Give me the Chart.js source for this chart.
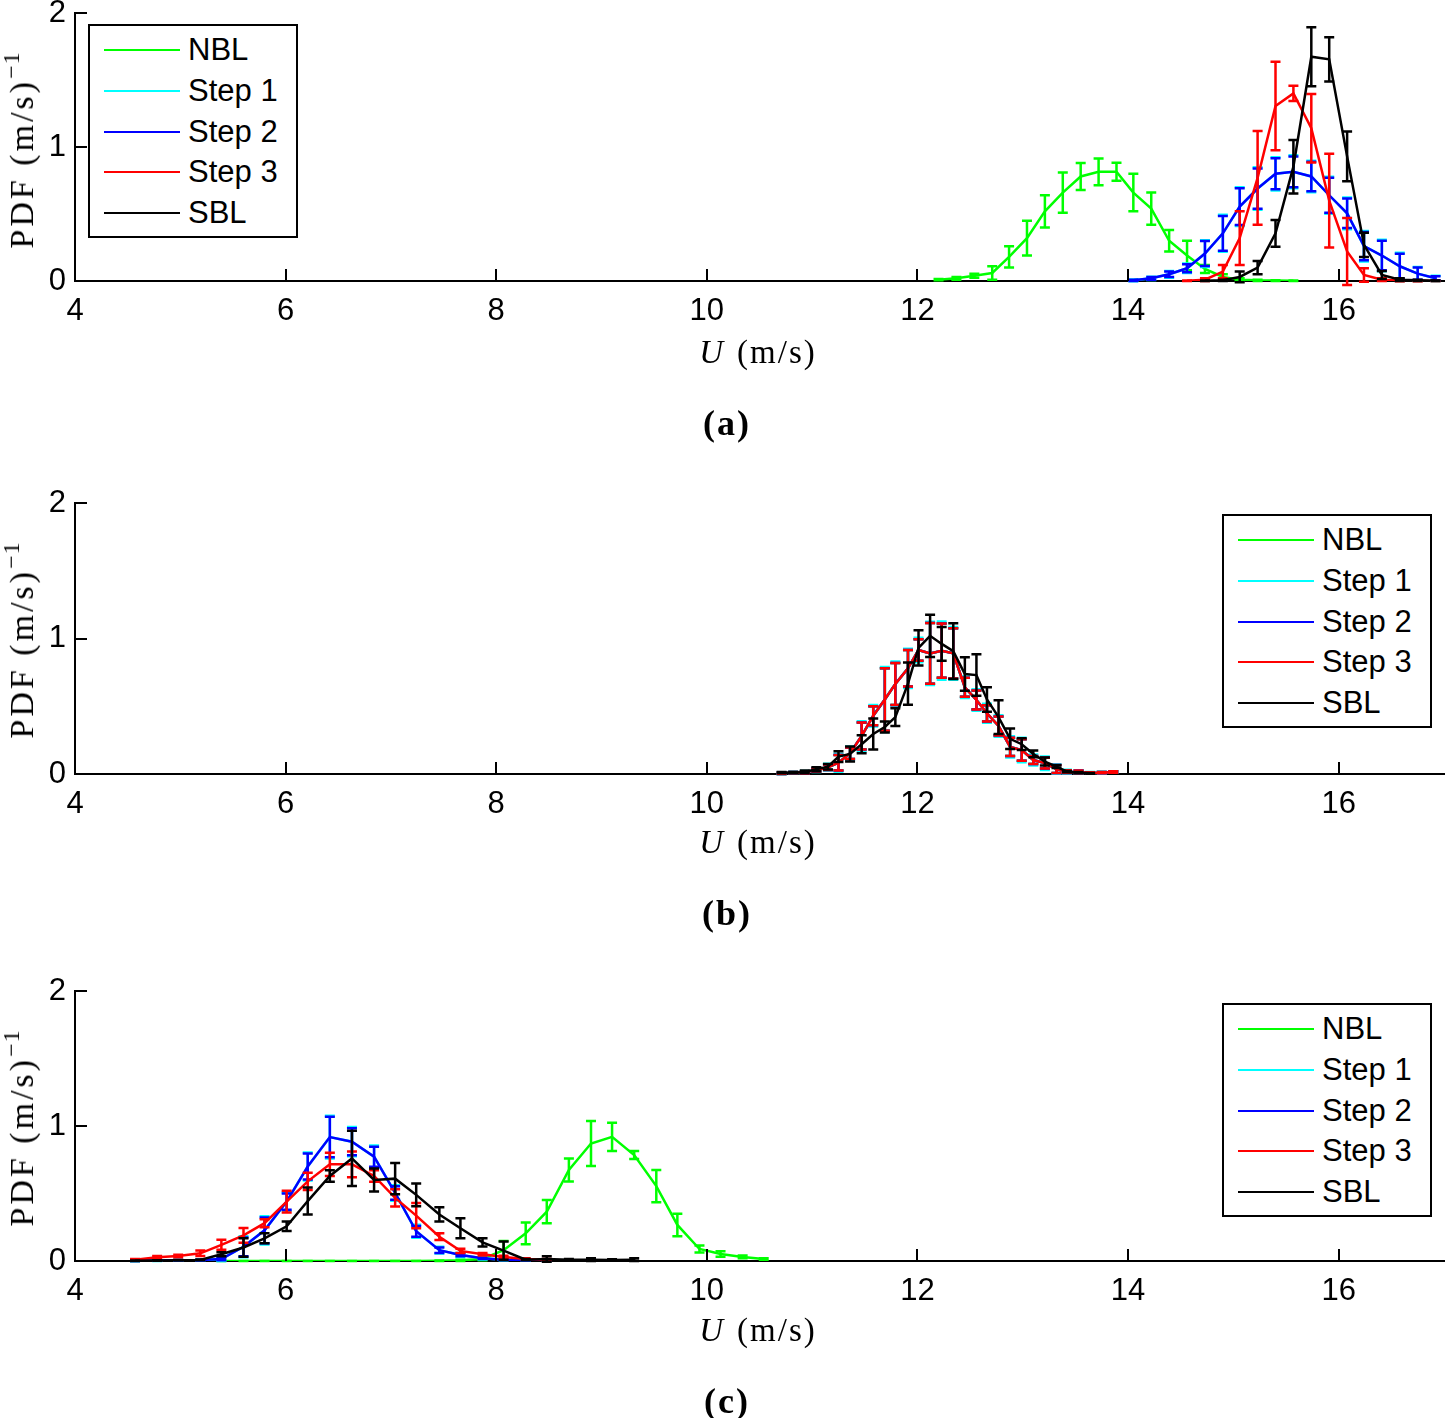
<!DOCTYPE html>
<html>
<head>
<meta charset="utf-8">
<script src="https://cdn.jsdelivr.net/npm/chart.js@4.4.1/dist/chart.umd.min.js"></script>
<style>
  html, body { margin:0; padding:0; background:#fff; }
  #page { position:relative; width:1445px; height:1418px; overflow:hidden; background:#fff; }
  canvas { position:absolute; left:0; }
  .ytitle { position:absolute; font-family:"Liberation Serif", serif; font-size:34px; letter-spacing:3px; white-space:nowrap; color:#000;
            transform:translate(-50%,-50%) rotate(-90deg); }
  .ytitle sup { font-size:24px; vertical-align:0; position:relative; top:-14px; letter-spacing:1px; }
  .xtitle { position:absolute; font-family:"Liberation Serif", serif; font-size:33px; letter-spacing:2px; white-space:nowrap; color:#000;
            transform:translate(-50%,-50%); }
  .xtitle i { margin-right:12px; }
  .caption { position:absolute; font-family:"Liberation Serif", serif; font-size:36px; font-weight:bold; letter-spacing:2px; color:#000;
             transform:translate(-50%,-50%); white-space:nowrap; }
  .legend { position:absolute; box-sizing:border-box; width:210px; height:214px; border:2px solid #000; background:#fff; }
  .lrow { position:absolute; left:0; width:100%; height:40px; line-height:40px; font-family:"Liberation Sans", Arial, sans-serif; font-size:31px; color:#000; }
  .lline { position:absolute; left:14px; top:19px; width:76px; height:2px; }
  .ltext { position:absolute; left:98px; top:0; white-space:nowrap; }
</style>
</head>
<body>
<div id="page"></div>
<script>
// ---------------- DATA ----------------
const xTicks = [4, 6, 8, 10, 12, 14, 16];
const yTicks = [0, 1, 2];
const xRange = [4, 17];
const yRange = [0, 2];
const seriesNames = ['NBL', 'Step 1', 'Step 2', 'Step 3', 'SBL'];
const panelCaptions = ['(a)', '(b)', '(c)'];
const xTitle = 'U';
const xUnit = '(m/s)';
const yTitle = 'PDF (m/s)';
const yTitleSup = '−1';

// Panel (a)
const binsA = [12.20,12.37,12.54,12.71,12.87,13.04,13.21,13.38,13.55,13.72,13.89,14.05,14.22,14.39,14.56,14.73,14.90,15.06,15.23,15.40,15.57,15.74,15.91,16.08,16.24,16.41,16.58,16.75,16.92];
const nblA     = [0.01,0.02,0.04,0.06,0.18,0.32,0.52,0.66,0.78,0.815,0.815,0.66,0.54,0.30,0.19,0.09,0.03,0.01,0.005,0.003,0.002,null,null,null,null,null,null,null,null];
const nblErrA  = [0.005,0.01,0.015,0.05,0.08,0.13,0.12,0.15,0.10,0.10,0.067,0.14,0.12,0.08,0.11,0.03,0.02,0.01,0.005,0.003,0.002,null,null,null,null,null,null,null,null];
const step1A   = [null,null,null,null,null,null,null,null,null,null,null,0.005,0.02,0.05,0.095,0.205,0.356,0.555,0.69,0.80,0.815,0.78,0.64,0.505,0.26,0.19,0.11,0.055,0.02];
const step1ErrA= [null,null,null,null,null,null,null,null,null,null,null,0.006,0.012,0.025,0.036,0.10,0.138,0.145,0.158,0.124,0.123,0.118,0.138,0.118,0.114,0.118,0.10,0.05,0.02];
const step2A   = [null,null,null,null,null,null,null,null,null,null,null,0.005,0.02,0.05,0.095,0.205,0.356,0.555,0.69,0.80,0.815,0.78,0.64,0.505,0.26,0.19,0.11,0.055,0.02];
const step2ErrA= [null,null,null,null,null,null,null,null,null,null,null,0.005,0.01,0.02,0.03,0.093,0.13,0.137,0.15,0.116,0.115,0.11,0.13,0.11,0.106,0.11,0.093,0.045,0.015];
const step3A   = [null,null,null,null,null,null,null,null,null,null,null,null,null,null,0.002,0.01,0.07,0.32,0.77,1.306,1.40,1.14,0.60,0.22,0.045,0.01,0.003,0.001,0.0];
const step3ErrA= [null,null,null,null,null,null,null,null,null,null,null,null,null,null,0.002,0.01,0.05,0.20,0.35,0.33,0.057,0.255,0.35,0.25,0.05,0.01,0.005,0.002,0.0];
const sblA     = [null,null,null,null,null,null,null,null,null,null,null,null,null,null,null,0.002,0.005,0.03,0.10,0.356,0.853,1.674,1.654,0.93,0.27,0.045,0.01,0.005,0.002];
const sblErrA  = [null,null,null,null,null,null,null,null,null,null,null,null,null,null,null,0.002,0.005,0.04,0.05,0.10,0.20,0.22,0.165,0.185,0.09,0.03,0.01,0.005,0.002];

// Panel (b)
const binsB = [10.71,10.82,10.93,11.04,11.15,11.25,11.36,11.47,11.58,11.69,11.79,11.91,12.01,12.12,12.23,12.34,12.45,12.56,12.66,12.77,12.88,12.99,13.10,13.21,13.32,13.42,13.53,13.64,13.75,13.86];
const nblB     = [0.005,0.01,0.012,0.03,0.05,0.083,0.153,0.28,0.43,0.55,0.665,0.78,0.915,0.89,0.91,0.89,0.64,0.546,0.448,0.354,0.20,0.177,0.103,0.08,0.037,0.017,0.015,0.008,0.01,0.015];
const nblErrB  = [0.005,0.005,0.008,0.012,0.02,0.058,0.043,0.10,0.07,0.23,0.155,0.135,0.08,0.224,0.20,0.185,0.07,0.07,0.06,0.07,0.068,0.08,0.03,0.04,0.03,0.01,0.01,0.005,0.005,0.005];
const step1B   = [0.005,0.01,0.012,0.03,0.05,0.083,0.153,0.28,0.43,0.55,0.665,0.78,0.915,0.89,0.91,0.89,0.64,0.546,0.448,0.354,0.20,0.177,0.103,0.08,0.037,0.017,0.015,0.008,0.01,0.015];
const step1ErrB= [0.006,0.006,0.01,0.015,0.025,0.066,0.05,0.11,0.08,0.24,0.165,0.145,0.09,0.234,0.215,0.195,0.08,0.08,0.07,0.08,0.078,0.09,0.04,0.05,0.035,0.015,0.012,0.006,0.006,0.006];
const step2B   = [0.005,0.01,0.012,0.03,0.05,0.083,0.153,0.28,0.43,0.55,0.665,0.78,0.915,0.89,0.91,0.89,0.64,0.546,0.448,0.354,0.20,0.177,0.103,0.08,0.037,0.017,0.015,0.008,0.01,0.015];
const step2ErrB= [0.005,0.005,0.008,0.012,0.02,0.058,0.043,0.10,0.07,0.23,0.155,0.135,0.08,0.224,0.20,0.185,0.07,0.07,0.06,0.07,0.068,0.08,0.03,0.04,0.03,0.01,0.01,0.005,0.005,0.005];
const step3B   = [0.005,0.01,0.012,0.03,0.05,0.083,0.153,0.28,0.43,0.55,0.665,0.78,0.915,0.89,0.91,0.89,0.64,0.546,0.448,0.354,0.20,0.177,0.103,0.08,0.037,0.017,0.015,0.008,0.01,0.015];
const step3ErrB= [0.005,0.005,0.008,0.012,0.02,0.058,0.043,0.10,0.07,0.23,0.155,0.135,0.08,0.224,0.20,0.185,0.07,0.07,0.06,0.07,0.068,0.08,0.03,0.04,0.03,0.01,0.01,0.005,0.005,0.005];
const sblB     = [0.01,0.01,0.015,0.035,0.054,0.128,0.148,0.22,0.295,0.347,0.42,0.667,0.93,1.02,0.96,0.907,0.738,0.73,0.55,0.42,0.26,0.22,0.148,0.092,0.054,0.017,0.01,0.005,null,null];
const sblErrB  = [0.005,0.005,0.01,0.015,0.02,0.04,0.055,0.066,0.114,0.04,0.065,0.156,0.13,0.156,0.125,0.205,0.123,0.153,0.09,0.125,0.076,0.043,0.025,0.03,0.01,0.005,0.005,0.003,null,null];

// Panel (c)
const binsC = [4.57,4.78,4.98,5.19,5.39,5.60,5.80,6.01,6.21,6.42,6.63,6.84,7.04,7.24,7.46,7.66,7.87,8.07,8.28,8.48,8.69,8.90,9.10,9.31,9.52,9.72,9.93,10.13,10.34,10.54];
const nblC     = [null,null,null,null,0,0,0,0,0,0,0,0,0,0,0.002,0.005,0.015,0.08,0.205,0.365,0.674,0.87,0.92,0.785,0.555,0.267,0.089,0.052,0.03,0.015];
const nblErrC  = [null,null,null,null,0,0,0,0,0,0,0,0,0,0,0.002,0.005,0.01,0.068,0.08,0.086,0.086,0.167,0.105,0.03,0.12,0.083,0.026,0.02,0.01,0.005];
const step1C   = [0.002,0.003,0.005,0.007,0.015,0.105,0.227,0.44,0.70,0.918,0.884,0.773,0.504,0.22,0.08,0.045,0.02,0.01,0.005,0.003,null,null,null,null,null,null,null,null,null,null];
const step1ErrC= [0.003,0.003,0.003,0.004,0.015,0.078,0.104,0.068,0.104,0.158,0.108,0.082,0.058,0.048,0.025,0.015,0.008,0.005,0.003,0.003,null,null,null,null,null,null,null,null,null,null];
const step2C   = [0.002,0.003,0.005,0.007,0.015,0.105,0.227,0.44,0.70,0.918,0.884,0.773,0.504,0.22,0.08,0.045,0.02,0.01,0.005,0.003,null,null,null,null,null,null,null,null,null,null];
const step2ErrC= [0.002,0.002,0.002,0.003,0.01,0.07,0.096,0.06,0.096,0.15,0.10,0.074,0.05,0.04,0.02,0.01,0.005,0.003,0.002,0.002,null,null,null,null,null,null,null,null,null,null];
const step3C   = [0.01,0.027,0.037,0.057,0.12,0.19,0.28,0.44,0.59,0.716,0.716,0.63,0.467,0.336,0.18,0.075,0.05,0.03,0.015,0.01,null,null,null,null,null,null,null,null,null,null];
const step3ErrC= [0.005,0.01,0.01,0.02,0.037,0.055,0.03,0.08,0.064,0.086,0.095,0.043,0.064,0.093,0.025,0.015,0.01,0.008,0.005,0.005,null,null,null,null,null,null,null,null,null,null];
const sblC     = [0.002,0.003,0.005,0.008,0.05,0.10,0.168,0.257,0.444,0.63,0.76,0.60,0.61,0.49,0.345,0.242,0.138,0.077,0.01,0.015,0.01,0.01,0.008,0.01,null,null,null,null,null,null];
const sblErrC  = [0.002,0.002,0.002,0.003,0.015,0.068,0.037,0.035,0.10,0.043,0.205,0.086,0.116,0.084,0.053,0.074,0.03,0.068,0.005,0.02,0.005,0.01,0.005,0.01,null,null,null,null,null,null];

// ---------------- STYLE / LAYOUT ----------------
const seriesColors = ['#00ff00', '#00ffff', '#0000ff', '#ff0000', '#000000'];
const panels = [
  { bins: binsA, vals: [nblA, step1A, step2A, step3A, sblA], errs: [nblErrA, step1ErrA, step2ErrA, step3ErrA, sblErrA],
    top: 0, plotBottom: 281, legend: { left: 88, top: 24 } },
  { bins: binsB, vals: [nblB, step1B, step2B, step3B, sblB], errs: [nblErrB, step1ErrB, step2ErrB, step3ErrB, sblErrB],
    top: 490, plotBottom: 284, legend: { left: 1222, top: 514 } },
  { bins: binsC, vals: [nblC, step1C, step2C, step3C, sblC], errs: [nblErrC, step1ErrC, step2ErrC, step3ErrC, sblErrC],
    top: 978, plotBottom: 283, legend: { left: 1222, top: 1003 } }
];
const CANVAS_W = 1445, CANVAS_H = 335, PLOT_TOP = 13, AXIS_W = 75;
const LINE_W = 2.5;
const tickFont = { family: '"Liberation Sans", Arial, sans-serif', size: 31 };

// Error bars drawn after each dataset (keeps layering per series)
const errorBarPlugin = {
  id: 'errorBars',
  afterDatasetDraw(chart, args) {
    const ds = chart.data.datasets[args.index];
    const meta = args.meta;
    const ys = chart.scales.y;
    const ctx = chart.ctx;
    ctx.save();
    ctx.strokeStyle = ds.borderColor;
    ctx.lineWidth = LINE_W;
    meta.data.forEach((pt, i) => {
      const raw = ds.data[i];
      if (!raw || raw.e == null) return;
      const x = pt.x;
      const yt = ys.getPixelForValue(raw.y + raw.e);
      const yb = ys.getPixelForValue(raw.y - raw.e);
      ctx.beginPath();
      ctx.moveTo(x, yt); ctx.lineTo(x, yb);
      ctx.moveTo(x - 5, yt); ctx.lineTo(x + 5, yt);
      ctx.moveTo(x - 5, yb); ctx.lineTo(x + 5, yb);
      ctx.stroke();
    });
    ctx.restore();
  }
};

// Inward tick marks (MATLAB style)
const inwardTicks = {
  id: 'inwardTicks',
  afterDraw(chart) {
    const { ctx, chartArea, scales: { x, y } } = chart;
    ctx.save();
    ctx.strokeStyle = '#000';
    ctx.lineWidth = 2;
    xTicks.forEach(v => {
      const px = Math.round(x.getPixelForValue(v));
      ctx.beginPath(); ctx.moveTo(px, chartArea.bottom); ctx.lineTo(px, chartArea.bottom - 12); ctx.stroke();
    });
    yTicks.forEach(v => {
      const py = Math.round(y.getPixelForValue(v));
      ctx.beginPath(); ctx.moveTo(chartArea.left, py); ctx.lineTo(chartArea.left + 12, py); ctx.stroke();
    });
    ctx.restore();
  }
};

const page = document.getElementById('page');

panels.forEach((p, pi) => {
  const canvas = document.createElement('canvas');
  canvas.width = CANVAS_W; canvas.height = CANVAS_H;
  canvas.style.width = CANVAS_W + 'px'; canvas.style.height = CANVAS_H + 'px';
  canvas.style.top = p.top + 'px';
  page.appendChild(canvas);

  const datasets = seriesNames.map((name, k) => {
    const pts = [];
    p.bins.forEach((x, i) => {
      const v = p.vals[k][i];
      if (v === null || v === undefined) return;
      pts.push({ x: x, y: v, e: p.errs[k][i] });
    });
    return {
      label: name,
      data: pts,
      borderColor: seriesColors[k],
      backgroundColor: seriesColors[k],
      borderWidth: LINE_W,
      pointRadius: 0,
      pointHoverRadius: 0,
      tension: 0,
      fill: false,
      order: seriesNames.length - k
    };
  });

  new Chart(canvas, {
    type: 'line',
    data: { datasets },
    options: {
      responsive: false,
      animation: false,
      devicePixelRatio: 1,
      layout: { padding: { left: 0, right: 1, top: PLOT_TOP, bottom: 0 } },
      plugins: { legend: { display: false }, tooltip: { enabled: false }, title: { display: false } },
      scales: {
        x: {
          type: 'linear', min: xRange[0], max: xRange[1],
          afterBuildTicks: s => { s.ticks = xTicks.map(v => ({ value: v })); },
          afterFit: s => { s.height = CANVAS_H - p.plotBottom; s.paddingLeft = 0; s.paddingRight = 0; },
          ticks: { font: tickFont, color: '#000', padding: 12, maxRotation: 0, autoSkip: false },
          grid: { display: false, drawTicks: false, drawOnChartArea: false },
          border: { display: true, color: '#000', width: 2 }
        },
        y: {
          type: 'linear', min: yRange[0], max: yRange[1],
          afterBuildTicks: s => { s.ticks = yTicks.map(v => ({ value: v })); },
          afterFit: s => { s.width = AXIS_W; s.paddingTop = 0; s.paddingBottom = 0; },
          ticks: { font: tickFont, color: '#000', padding: 9 },
          grid: { display: false, drawTicks: false, drawOnChartArea: false },
          border: { display: true, color: '#000', width: 2 }
        }
      }
    },
    plugins: [errorBarPlugin, inwardTicks]
  });

  // Axis titles and caption (real text)
  const yt = document.createElement('div');
  yt.className = 'ytitle';
  yt.style.left = '22px';
  yt.style.top = (p.top + 150) + 'px';
  yt.innerHTML = yTitle + '<sup>' + yTitleSup + '</sup>';
  page.appendChild(yt);

  const xt = document.createElement('div');
  xt.className = 'xtitle';
  xt.style.left = '758px';
  xt.style.top = (p.top + 352) + 'px';
  xt.innerHTML = '<i>' + xTitle + '</i>' + xUnit;
  page.appendChild(xt);

  const cap = document.createElement('div');
  cap.className = 'caption';
  cap.style.left = '727px';
  cap.style.top = (p.top + 423) + 'px';
  cap.textContent = panelCaptions[pi];
  page.appendChild(cap);

  // Legend box
  const lg = document.createElement('div');
  lg.className = 'legend';
  lg.style.left = p.legend.left + 'px';
  lg.style.top = p.legend.top + 'px';
  seriesNames.forEach((name, k) => {
    const row = document.createElement('div');
    row.className = 'lrow';
    row.style.top = Math.round(24 + k * 40.8 - 20) + 'px';
    const ln = document.createElement('span');
    ln.className = 'lline';
    ln.style.background = seriesColors[k];
    const tx = document.createElement('span');
    tx.className = 'ltext';
    tx.textContent = name;
    row.appendChild(ln); row.appendChild(tx);
    lg.appendChild(row);
  });
  page.appendChild(lg);
});
</script>
</body>
</html>
